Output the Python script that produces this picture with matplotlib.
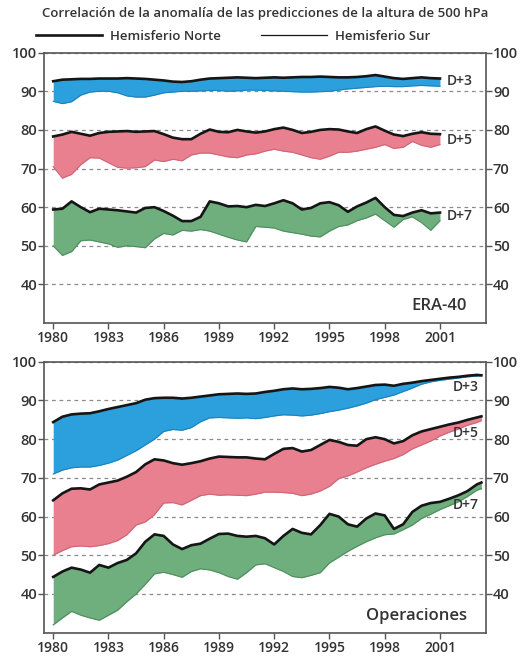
import numpy as np
import matplotlib
matplotlib.use("Agg")
import matplotlib.pyplot as plt
from matplotlib.lines import Line2D

plt.rcParams['font.family'] = ['Open Sans', 'DejaVu Sans']
plt.rcParams['font.weight'] = 'semibold'

TEXT = '#333333'
SPINE = '#555555'

# half-year samples
years_era = np.arange(1980.0, 2001.01, 0.5)
years_ops = np.append(np.arange(1980.0, 2003.01, 0.5), 2003.25)

# ERA-40 (top panel): NH = upper edge, SH = lower edge
era_d3_nh = [92.6, 93.0, 93.1, 93.2, 93.2, 93.3, 93.3, 93.3, 93.4, 93.3, 93.2, 93.0, 92.8, 92.5, 92.4, 92.6,
             93.0, 93.3, 93.4, 93.5, 93.6, 93.5, 93.4, 93.5, 93.6, 93.5, 93.6, 93.7, 93.7, 93.8, 93.7,
             93.6, 93.6, 93.7, 93.9, 94.2, 93.8, 93.4, 93.2, 93.4, 93.6, 93.4, 93.3]
era_d3_sh = [87.4, 86.8, 87.3, 89.0, 89.8, 90.0, 90.0, 89.6, 88.8, 88.5, 88.5, 89.0, 89.6, 89.8, 90.0, 90.0,
             90.1, 90.2, 90.2, 90.0, 90.1, 90.3, 90.3, 90.2, 90.1, 90.0, 89.9, 89.8, 89.8, 89.9, 90.0,
             90.3, 90.6, 90.8, 91.0, 91.2, 91.3, 91.2, 91.2, 91.4, 91.5, 91.4, 91.3]
era_d5_nh = [78.3, 78.8, 79.5, 79.0, 78.5, 79.2, 79.5, 79.6, 79.7, 79.5, 79.6, 79.7, 78.9, 78.0, 77.6, 77.6,
             79.0, 80.1, 79.5, 79.4, 80.0, 79.6, 79.3, 79.6, 80.2, 80.6, 80.0, 79.2, 79.5, 80.0, 80.2,
             80.1, 79.6, 79.2, 80.2, 80.9, 79.8, 78.8, 78.4, 79.0, 79.4, 79.0, 78.9]
era_d5_sh = [70.5, 67.5, 68.5, 71.0, 72.8, 72.7, 71.5, 70.3, 70.1, 70.2, 70.5, 72.2, 71.8, 72.4, 72.0, 73.5,
             74.0, 74.0, 73.5, 73.0, 72.8, 73.5, 73.8, 74.5, 75.0, 74.5, 74.2, 73.5, 72.8, 72.4, 73.2,
             74.2, 74.2, 74.5, 75.0, 75.5, 76.2, 75.2, 75.5, 77.0, 76.0, 75.5, 76.2]
era_d7_nh = [59.4, 59.6, 61.5, 60.0, 58.7, 59.6, 59.4, 59.2, 58.9, 58.6, 59.8, 60.0, 59.0, 57.8, 56.4, 56.4,
             57.5, 61.5, 61.0, 60.2, 60.3, 60.0, 60.6, 60.3, 61.0, 61.8, 61.0, 59.4, 59.8, 61.0, 61.3,
             60.5, 58.8, 60.2, 61.2, 62.4, 60.0, 58.0, 57.7, 58.6, 59.2, 58.4, 58.6]
era_d7_sh = [50.0, 47.5, 48.5, 51.3, 51.5, 51.0, 50.5, 49.6, 50.0, 49.8, 49.5, 51.8, 53.2, 52.8, 54.0, 53.8,
             54.2, 53.8, 53.0, 52.2, 51.5, 51.0, 55.0, 54.8, 54.6, 53.8, 53.4, 53.0, 52.5, 52.3, 53.8,
             55.0, 55.4, 56.5, 57.2, 58.2, 56.5, 54.8, 56.8, 57.5, 56.0, 54.0, 56.5]

# Operaciones (bottom panel)
ops_d3_nh = [84.4, 85.8, 86.4, 86.6, 86.7, 87.2, 87.8, 88.3, 88.8, 89.3, 90.2, 90.6, 90.7, 90.7, 90.5, 90.7,
             91.0, 91.3, 91.6, 91.7, 91.8, 91.7, 91.8, 92.2, 92.5, 92.9, 93.1, 92.9, 93.0, 93.2, 93.5,
             93.3, 92.9, 93.2, 93.6, 94.0, 94.1, 93.8, 94.3, 94.6, 95.0, 95.3, 95.6, 95.9, 96.1, 96.4, 96.6,
             96.5]
ops_d3_sh = [71.0, 72.0, 72.6, 72.8, 72.8, 73.2, 73.8, 74.6, 75.8, 77.0, 78.5, 80.0, 82.0, 82.5, 82.3, 83.0,
             84.5, 85.5, 85.6, 85.5, 85.4, 85.5, 85.3, 85.6, 86.0, 86.3, 86.2, 86.0, 86.2, 86.6, 87.1,
             87.5, 88.0, 88.6, 89.3, 90.2, 90.8, 91.4, 92.3, 93.2, 94.2, 94.8, 95.2, 95.5, 95.8, 96.1, 96.3,
             96.4]
ops_d5_nh = [64.2, 66.0, 67.2, 67.3, 67.0, 68.3, 68.8, 69.3, 70.3, 71.5, 73.5, 74.8, 74.5, 73.8, 73.4, 73.8,
             74.3, 75.0, 75.5, 75.4, 75.3, 75.3, 75.0, 74.8, 76.2, 77.5, 77.7, 76.8, 77.2, 78.5, 79.8,
             79.3, 78.5, 78.3, 80.0, 80.5, 80.0, 78.9, 79.5, 81.0, 82.0, 82.6, 83.2, 83.8, 84.3, 85.0, 85.6,
             85.9]
ops_d5_sh = [50.0, 51.2, 52.2, 52.4, 52.2, 52.5, 53.0, 53.8, 55.3, 57.8, 58.6, 60.5, 63.5, 63.6, 63.0, 64.2,
             65.4, 65.8, 65.5, 65.6, 65.5, 65.4, 65.8, 66.3, 66.3, 66.2, 66.0, 65.4, 65.8, 66.6, 67.8,
             69.8, 70.5, 71.5, 72.6, 73.5, 74.3, 75.0, 76.0, 77.5, 78.5, 79.5, 80.8, 81.8, 82.6, 83.6, 84.3,
             84.8]
ops_d7_nh = [44.4, 45.8, 46.8, 46.3, 45.5, 47.5, 46.8, 48.0, 48.8, 50.5, 53.5, 55.4, 55.0, 52.8, 51.6, 52.6,
             53.0, 54.3, 55.5, 55.6, 55.0, 54.8, 55.0, 54.4, 52.8, 55.0, 56.8, 55.8, 55.4, 57.8, 60.7,
             60.0, 58.0, 57.4, 59.5, 60.8, 60.3, 56.8, 58.0, 61.2, 62.8, 63.5, 63.8, 64.6, 65.5, 66.6, 68.3,
             68.8]
ops_d7_sh = [32.0, 33.8, 35.5, 34.5, 33.8, 33.2, 34.5, 35.8, 38.0, 40.0, 42.5, 45.2, 45.6, 45.0, 44.3, 45.8,
             46.5, 46.2, 45.5, 44.5, 43.8, 45.5, 47.5, 47.8, 46.8, 45.8, 44.5, 44.2, 44.8, 45.5, 48.0,
             49.5, 51.0, 52.3, 53.5, 54.5, 55.3, 55.5, 56.6, 57.8, 59.5, 60.6, 61.8, 62.8, 63.8, 65.2, 66.8,
             67.2]

leads = ['D+3', 'D+5', 'D+7']
fill_colors = ['#2ba0dc', '#e9808f', '#6fae7d']
edge_colors = ['#1c82bd', '#cf6677', '#4f8e5e']
year_ticks = [1980, 1983, 1986, 1989, 1992, 1995, 1998, 2001]
value_ticks = [40, 50, 60, 70, 80, 90, 100]

# where the D+n labels sit (years, value)
era_label_pos = [(2001.35, 92.6), (2001.35, 77.4), (2001.35, 57.8)]
ops_label_pos = [(2003.1, 93.5), (2003.1, 81.7), (2003.1, 63.1)]


def draw_panel(ax, years, nh_list, sh_list, label_pos, label_ha, name):
    for nh, sh, fc, ec, lead, (lx, ly) in zip(nh_list, sh_list, fill_colors, edge_colors, leads, label_pos):
        ax.fill_between(years, sh, nh, color=fc, lw=0, zorder=2)
        ax.plot(years, sh, color=ec, lw=0.8, zorder=3)
        ax.plot(years, nh, color='#151515', lw=1.9, zorder=4)
        ax.text(lx, ly, lead, ha=label_ha, va='center', fontsize=10, color=TEXT)

    ax.set_xlim(1979.5, 2003.5)
    ax.set_ylim(30, 100)
    ax.set_xticks(year_ticks)
    ax.set_yticks(value_ticks)
    ax.grid(axis='y', ls=(0, (3, 3)), color='#8a8a8a', lw=0.9, zorder=1)
    ax.set_axisbelow(True)
    ax.tick_params(axis='y', left=True, right=True, labelleft=True, labelright=True,
                   direction='out', length=4, width=1, labelsize=10.5, colors=SPINE, labelcolor=TEXT, pad=1)
    ax.tick_params(axis='x', direction='out', length=4, width=1, labelsize=10,
                   colors=SPINE, labelcolor=TEXT, pad=2)
    for s in ax.spines.values():
        s.set_color(SPINE)
        s.set_linewidth(1.2)
    ax.text(2002.45, 34.3, name, ha='right', va='center', fontsize=12, color=TEXT)


fig = plt.figure(figsize=(5.3, 6.58), dpi=100)
ax_top = fig.add_axes([0.083, 0.509, 0.834, 0.411])
ax_bot = fig.add_axes([0.083, 0.0385, 0.834, 0.4117])

draw_panel(ax_top, years_era, [era_d3_nh, era_d5_nh, era_d7_nh], [era_d3_sh, era_d5_sh, era_d7_sh],
           era_label_pos, 'left', 'ERA-40')
draw_panel(ax_bot, years_ops, [ops_d3_nh, ops_d5_nh, ops_d7_nh], [ops_d3_sh, ops_d5_sh, ops_d7_sh],
           ops_label_pos, 'right', 'Operaciones')

fig.text(0.5, 1 - 13 / 658, 'Correlación de la anomalía de las predicciones de la altura de 500 hPa',
         ha='center', va='center', fontsize=9.5, color=TEXT)

handles = [Line2D([], [], color='#151515', lw=1.9), Line2D([], [], color='#151515', lw=0.9)]
fig.legend(handles, ['Hemisferio Norte', 'Hemisferio Sur'], loc='center', ncol=2,
           bbox_to_anchor=(0.44, 1 - 36 / 658), frameon=False, fontsize=9.5,
           handlelength=5, handletextpad=0.6, columnspacing=3, labelcolor=TEXT)

fig.savefig('out.png', dpi=100)
